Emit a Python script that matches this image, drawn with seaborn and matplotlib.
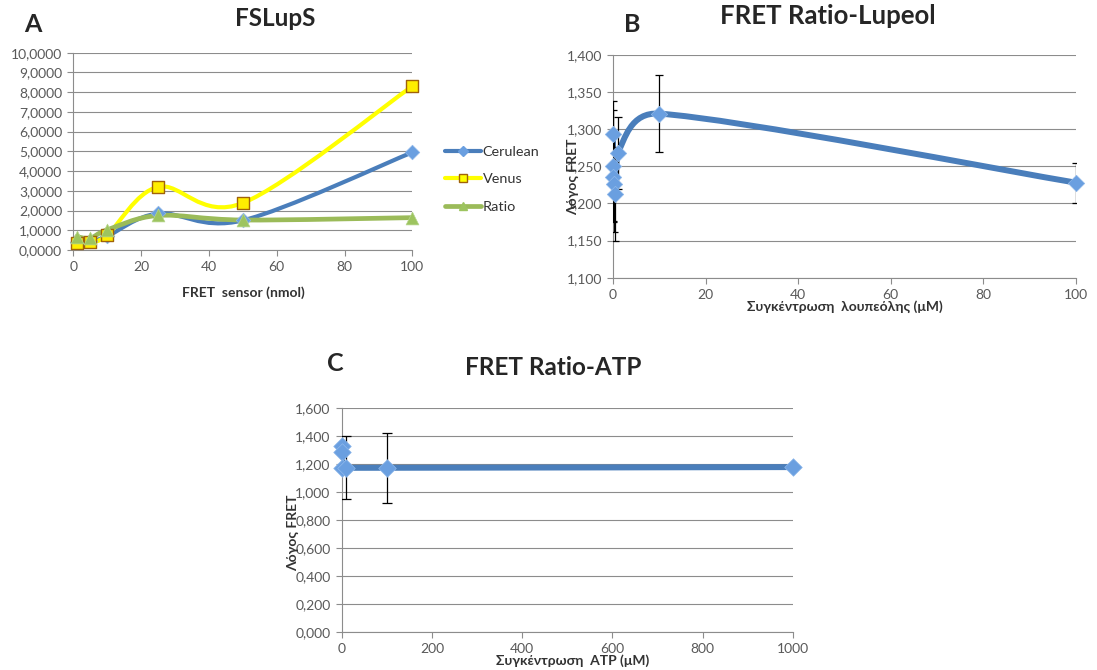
import numpy as np
import matplotlib
matplotlib.use("Agg")
import matplotlib.pyplot as plt
import seaborn as sns
from matplotlib.path import Path
from matplotlib.patches import PathPatch
from matplotlib.lines import Line2D
from matplotlib.ticker import FuncFormatter, MultipleLocator

# Panel A - FSLupS
a_x = [1, 5, 10, 25, 50, 100]
a_cerulean = [0.40, 0.45, 0.70, 1.85, 1.50, 4.95]
a_venus = [0.34, 0.42, 0.76, 3.20, 2.38, 8.30]
a_ratio = [0.68, 0.60, 1.02, 1.75, 1.52, 1.64]

# Panel B - FRET Ratio-Lupeol
b_x = [0, 0.01, 0.1, 0.25, 0.5, 1, 10, 100]
b_y = [1.294, 1.251, 1.235, 1.226, 1.213, 1.268, 1.321, 1.228]
b_err = [0.044, 0.075, 0.060, 0.065, 0.063, 0.048, 0.052, 0.027]

# Panel C - FRET Ratio-ATP
c_x = [0, 0.5, 1, 10, 100, 1000]
c_y = [1.33, 1.29, 1.175, 1.175, 1.175, 1.18]
c_err = [0, 0, 0, 0.225, 0.25, 0]

BLUE = "#4a7ebb"
BLUE_MK = "#6a9fe0"
YELLOW = "#ffff00"
GREEN = "#9bbb59"
GRID = "#8c8c8c"
TICK = "#595959"
LABEL = "#333333"

sns.set_theme(style="white")
plt.rcParams["font.family"] = ["Lato", "DejaVu Sans"]

fig = plt.figure(figsize=(10.97, 6.70), dpi=100)


def fx(px):
    return px / 1097


def fy(py):
    return 1 - py / 670


def smooth_line(ax, x, y, color, lw):
    # excel-like smoothed line: catmull-rom bezier, control points kept
    # inside their segment so it never loops back
    P = np.column_stack([np.asarray(x, float), np.asarray(y, float)])
    n = len(P)
    T = np.array([(P[min(i + 1, n - 1)] - P[max(i - 1, 0)]) / 6 for i in range(n)])
    verts = [P[0]]
    codes = [Path.MOVETO]
    for i in range(n - 1):
        seg = P[i + 1, 0] - P[i, 0]
        d1 = T[i].copy()
        d2 = T[i + 1].copy()
        for d in (d1, d2):
            if abs(d[0]) > 0.7 * seg > 0:
                d *= 0.7 * seg / abs(d[0])
        verts += [P[i] + d1, P[i + 1] - d2, P[i + 1]]
        codes += [Path.CURVE4] * 3
    patch = PathPatch(Path(np.array(verts), codes), fill=False,
                      edgecolor=color, lw=lw, capstyle="round",
                      joinstyle="round", zorder=3)
    ax.add_patch(patch)


def style_axes(ax, xlim, xstep, ylim, ystep, decimals):
    ax.set_xlim(*xlim)
    ax.set_ylim(*ylim)
    ax.xaxis.set_major_locator(MultipleLocator(xstep))
    ax.yaxis.set_major_locator(MultipleLocator(ystep))
    ax.yaxis.set_major_formatter(
        FuncFormatter(lambda v, p: f"{v:.{decimals}f}".replace(".", ",")))
    ax.grid(axis="y", color=GRID, lw=0.8)
    ax.grid(axis="x", visible=False)
    ax.set_axisbelow(True)
    for s in ["top", "right"]:
        ax.spines[s].set_visible(False)
    for s in ["left", "bottom"]:
        ax.spines[s].set_color(GRID)
        ax.spines[s].set_linewidth(0.8)
    ax.tick_params(axis="both", which="major", length=4, width=0.8,
                   color=GRID, labelcolor=TICK, labelsize=10, pad=4,
                   left=True, bottom=True, direction="out")
    ax.set_xlabel("")
    ax.set_ylabel("")


# ---------------- A ----------------
axA = fig.add_axes([fx(73.3), fy(250), fx(412.3) - fx(73.3), fy(52.7) - fy(250)])
style_axes(axA, (0, 100), 20, (0, 10), 1, 4)
smooth_line(axA, a_x, a_cerulean, BLUE, 3.0)
smooth_line(axA, a_x, a_venus, YELLOW, 3.0)
smooth_line(axA, a_x, a_ratio, GREEN, 3.4)
sns.scatterplot(x=a_x, y=a_cerulean, ax=axA, marker="D", s=55, color=BLUE_MK,
                edgecolor="#8fb8ea", linewidth=0.5, zorder=5, clip_on=False)
sns.scatterplot(x=a_x, y=a_venus, ax=axA, marker="s", s=75, color="#ffee00",
                edgecolor="#a0620a", linewidth=1.0, zorder=6, clip_on=False)
sns.scatterplot(x=a_x, y=a_ratio, ax=axA, marker="^", s=85, color="#9dc45f",
                edgecolor="#b5d58a", linewidth=0.5, zorder=7, clip_on=False)
fig.text(fx(243), fy(293), "FRET  sensor (nmol)", ha="center", va="center",
         fontsize=10, fontweight="bold", color=LABEL)
fig.text(fx(275), fy(18), "FSLupS", ha="center", va="center",
         fontsize=17.5, fontweight="bold")
fig.text(fx(33), fy(25), "A", ha="center", va="center",
         fontsize=18, fontweight="bold")

handles = [
    Line2D([], [], color=BLUE, lw=3, marker="D", markersize=5,
           markerfacecolor=BLUE_MK, markeredgecolor=BLUE_MK),
    Line2D([], [], color=YELLOW, lw=3, marker="s", markersize=6,
           markerfacecolor=YELLOW, markeredgecolor="#a0620a"),
    Line2D([], [], color=GREEN, lw=3.4, marker="^", markersize=6,
           markerfacecolor="#9dc45f", markeredgecolor="#9dc45f"),
]
fig.legend(handles, ["Cerulean", "Venus", "Ratio"], loc="upper left",
           bbox_to_anchor=(fx(445), fy(146)), frameon=False,
           fontsize=10.4, handlelength=2.5, handletextpad=0.1,
           labelspacing=1.05, borderpad=0, borderaxespad=0,
           labelcolor=LABEL)

# ---------------- B ----------------
axB = fig.add_axes([fx(613), fy(277.7), fx(1076) - fx(613), fy(55) - fy(277.7)])
style_axes(axB, (0, 100), 20, (1.1, 1.4), 0.05, 3)
axB.errorbar(b_x, b_y, yerr=b_err, fmt="none", ecolor="black", elinewidth=0.9,
             capsize=3.2, capthick=0.9, zorder=4)
smooth_line(axB, b_x, b_y, BLUE, 4.3)
sns.scatterplot(x=b_x, y=b_y, ax=axB, marker="D", s=70, color=BLUE_MK,
                edgecolor="#8fb8ea", linewidth=0.5, zorder=5, clip_on=False)
fig.text(fx(845), fy(307), "Συγκέντρωση  λουπεόλης (μM)", ha="center",
         va="center", fontsize=10, fontweight="bold", color=LABEL)
fig.text(fx(573), fy(177), "Λόγος FRET", rotation=90, ha="center",
         va="center", fontsize=10, fontweight="bold", color=LABEL)
fig.text(fx(828), fy(16), "FRET Ratio-Lupeol", ha="center",
         va="center", fontsize=18.5, fontweight="bold")
fig.text(fx(632), fy(25), "B", ha="center", va="center",
         fontsize=18, fontweight="bold")

# ---------------- C ----------------
axC = fig.add_axes([fx(341.7), fy(632.3), fx(793) - fx(341.7), fy(408.3) - fy(632.3)])
style_axes(axC, (0, 1000), 200, (0, 1.6), 0.2, 3)
cx = np.array(c_x, float)
cy = np.array(c_y, float)
ce = np.array(c_err, float)
m = ce > 0
axC.errorbar(cx[m], cy[m], yerr=ce[m], fmt="none", ecolor="black",
             elinewidth=0.9, capsize=3.3, capthick=0.9, zorder=4)
smooth_line(axC, c_x, c_y, BLUE, 4.3)
sns.scatterplot(x=c_x, y=c_y, ax=axC, marker="D", s=80, color=BLUE_MK,
                edgecolor="#8fb8ea", linewidth=0.5, zorder=5, clip_on=False)
fig.text(fx(573), fy(661), "Συγκέντρωση  ATP (μM)", ha="center",
         va="center", fontsize=10, fontweight="bold", color=LABEL)
fig.text(fx(293), fy(533), "Λόγος FRET", rotation=90, ha="center",
         va="center", fontsize=10, fontweight="bold", color=LABEL)
fig.text(fx(553), fy(367), "FRET Ratio-ATP", ha="center",
         va="center", fontsize=17.5, fontweight="bold")
fig.text(fx(335), fy(364), "C", ha="center", va="center",
         fontsize=18, fontweight="bold")

fig.savefig("out.png", dpi=100, facecolor="white")
